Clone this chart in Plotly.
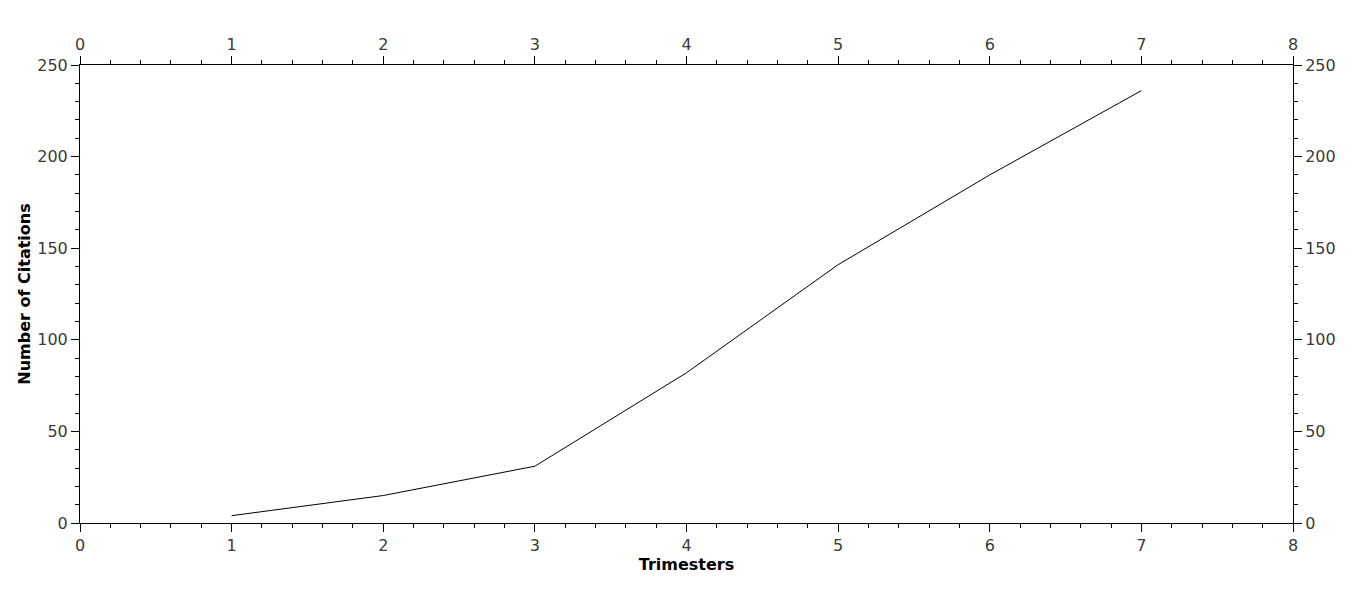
import plotly.graph_objects as go

trimesters = [1, 2, 3, 4, 5, 6, 7]
citations = [4, 15, 31, 82, 141, 190, 236]

x_title = "Trimesters"
y_title = "Number of Citations"

tick_font = dict(family="DejaVu Sans", size=16, color="#3a3a3a")
title_font = dict(family="DejaVu Sans", size=16, color="#000000")

fig = go.Figure()
fig.add_trace(go.Scatter(x=trimesters, y=citations, mode="lines",
                         line=dict(color="#000000", width=1), showlegend=False,
                         hoverinfo="x+y"))
# invisible copy to activate the mirrored top/right axes
fig.add_trace(go.Scatter(x=trimesters, y=citations, mode="lines", xaxis="x2", yaxis="y2",
                         line=dict(color="rgba(0,0,0,0)", width=0), showlegend=False,
                         hoverinfo="skip"))

common_x = dict(range=[0, 8], dtick=1, tick0=0, ticks="outside", ticklen=8, tickwidth=1,
                tickcolor="#000", showline=True, linecolor="#000", linewidth=1,
                showgrid=False, zeroline=False, tickfont=tick_font, automargin=False,
                minor=dict(dtick=0.2, tick0=0, ticks="outside", ticklen=4, tickcolor="#000",
                           tickwidth=1, showgrid=False))
common_y = dict(range=[0, 250], dtick=50, tick0=0, ticks="outside", ticklen=8, tickwidth=1,
                tickcolor="#000", showline=True, linecolor="#000", linewidth=1,
                showgrid=False, zeroline=False, tickfont=tick_font, automargin=False,
                minor=dict(dtick=10, tick0=0, ticks="outside", ticklen=4, tickcolor="#000",
                           tickwidth=1, showgrid=False))

fig.update_layout(
    width=1366, height=589,
    paper_bgcolor="white", plot_bgcolor="white",
    margin=dict(l=72, r=81, t=57, b=74),
    xaxis=dict(**common_x, title=dict(text="<b>" + x_title + "</b>", font=title_font, standoff=4)),
    yaxis=dict(**common_y, title=dict(text="<b>" + y_title + "</b>", font=title_font, standoff=2)),
    xaxis2=dict(**common_x, overlaying="x", side="top", anchor="y"),
    yaxis2=dict(**common_y, overlaying="y", side="right", anchor="x"),
)

fig.write_html("out.html")
